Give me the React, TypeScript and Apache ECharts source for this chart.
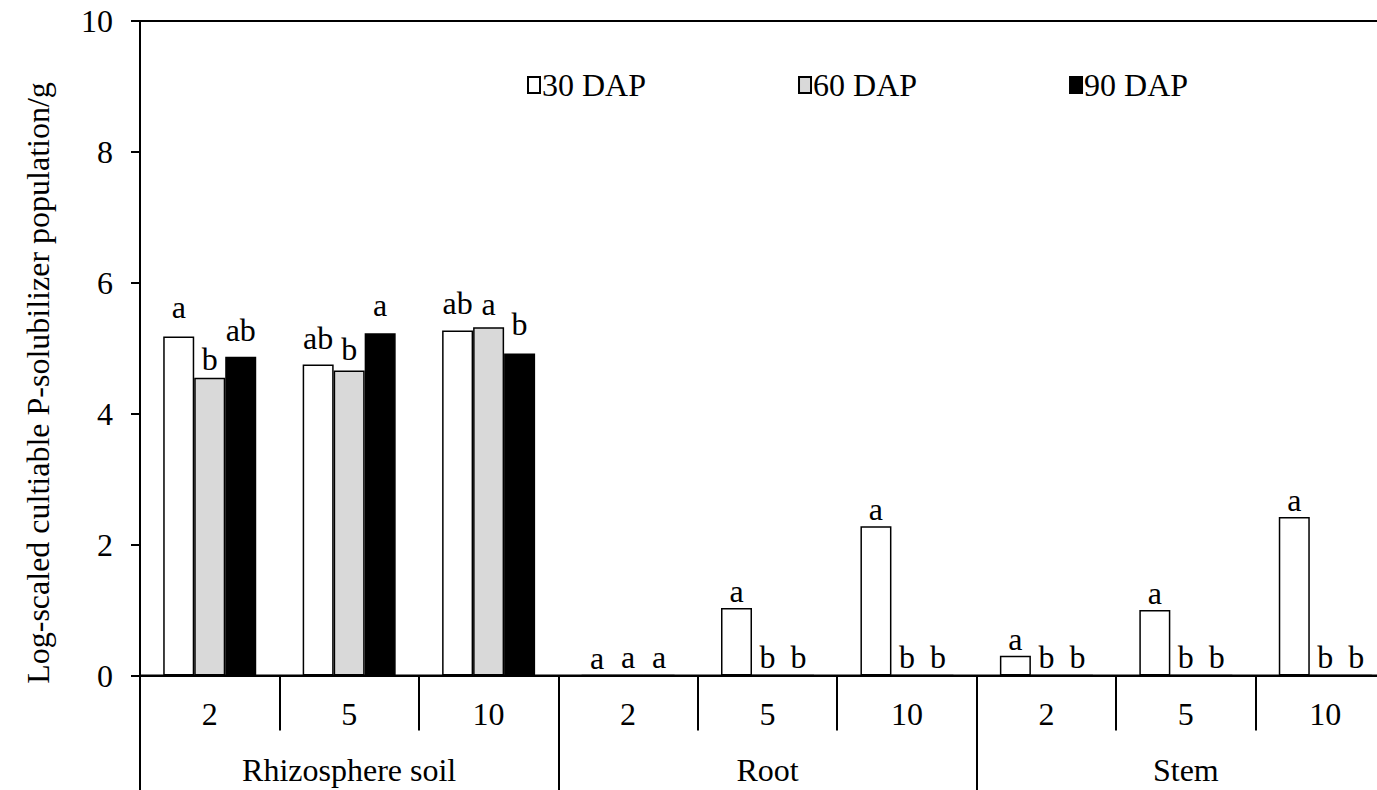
import React, { useEffect, useRef } from "react";
import * as echarts from "echarts";

const groups = ["Rhizosphere soil", "Root", "Stem"];
const subCategories = ["2", "5", "10", "2", "5", "10", "2", "5", "10"];
const seriesNames = ["30 DAP", "60 DAP", "90 DAP"];
const values30 = [5.18, 4.75, 5.27, 0, 1.03, 2.28, 0.3, 1.0, 2.42];
const values60 = [4.55, 4.66, 5.32, 0, 0, 0, 0, 0, 0];
const values90 = [4.87, 5.23, 4.92, 0, 0, 0, 0, 0, 0];
const letters30 = ["a", "ab", "ab", "a", "a", "a", "a", "a", "a"];
const letters60 = ["b", "b", "a", "a", "b", "b", "b", "b", "b"];
const letters90 = ["ab", "a", "b", "a", "b", "b", "b", "b", "b"];
const yTicks = { min: 0, max: 10, interval: 2 };
const yTitle = "Log-scaled cultiable P-solubilizer population/g";

// label distances above bars (style, px)
const labelDist30 = [13, 11, 12, 1, 1, 1, 1, 1, 1];
const labelDist60 = [3, 6, 7, 2, 2, 2, 2, 2, 2];
const labelDist90 = [11, 12, 13, 2, 2, 2, 2, 2, 2];

const FONT = "'Liberation Serif', 'Times New Roman', serif";

export default function App() {
  const ref = useRef<HTMLDivElement>(null);
  useEffect(() => {
    if (!ref.current) return;
    const chart = echarts.init(ref.current, undefined, { renderer: "svg" });
    const fills = ["#ffffff", "#d9d9d9", "#000000"];
    const vals = [values30, values60, values90];
    const lets = [letters30, letters60, letters90];
    const dists = [labelDist30, labelDist60, labelDist90];
    chart.setOption({
      animation: false,
      textStyle: { fontFamily: FONT, color: "#000" },
      grid: {
        left: 140,
        right: 5,
        top: 21,
        bottom: 114.5,
        show: true,
        borderColor: "#000",
        borderWidth: 2,
        backgroundColor: "transparent",
      },
      legend: {
        data: seriesNames,
        left: 522,
        top: 64,
        icon: "rect",
        itemWidth: 12,
        itemHeight: 16,
        itemGap: 152,
        textStyle: { fontFamily: FONT, fontSize: 32, color: "#000", padding: [0, 0, 0, -3] },
      },
      graphic: [
        {
          type: "text",
          x: 38,
          y: 383,
          rotation: Math.PI / 2,
          style: {
            text: yTitle,
            fontFamily: FONT,
            fontSize: 32,
            fill: "#000",
            align: "center",
            verticalAlign: "middle",
          },
        },
      ],
      xAxis: [
        {
          type: "category",
          data: subCategories,
          position: "bottom",
          axisLine: { show: true, lineStyle: { color: "#000", width: 2 } },
          axisTick: { show: true, interval: 0, length: 55, lineStyle: { color: "#000", width: 2 } },
          axisLabel: { interval: 0, margin: 22, fontSize: 32, fontFamily: FONT, color: "#000" },
          splitLine: { show: false },
        },
        {
          type: "category",
          data: groups,
          position: "bottom",
          axisLine: { show: false },
          axisTick: { show: true, interval: 0, length: 130, lineStyle: { color: "#000", width: 2 } },
          axisLabel: { interval: 0, margin: 78, fontSize: 32, fontFamily: FONT, color: "#000" },
          splitLine: { show: false },
        },
      ],
      yAxis: {
        type: "value",
        min: yTicks.min,
        max: yTicks.max,
        interval: yTicks.interval,
        axisLine: { show: true, lineStyle: { color: "#000", width: 2 } },
        axisTick: { show: true, inside: false, length: 9, lineStyle: { color: "#000", width: 2 } },
        axisLabel: { margin: 27, fontSize: 32, fontFamily: FONT, color: "#000" },
        splitLine: { show: false },
      },
      series: seriesNames.map((name, i) => ({
        name,
        type: "bar",
        xAxisIndex: 0,
        data: vals[i].map((v, j) => ({ value: v, label: { distance: dists[i][j] } })),
        barWidth: 31,
        barGap: "0%",
        itemStyle: { color: fills[i], borderColor: "#000", borderWidth: 1.5 },
        label: {
          show: true,
          position: "top",
          fontSize: 32,
          fontFamily: FONT,
          color: "#000",
          formatter: (p: any) => lets[i][p.dataIndex],
        },
      })),
    });
    return () => chart.dispose();
  }, []);
  return (
    <div style={{ position: "fixed", left: 0, top: 0, width: 1377, height: 790, overflow: "hidden", background: "#fff" }}>
      <div ref={ref} style={{ position: "absolute", left: 0, top: 0, width: 1400, height: 790 }} />
    </div>
  );
}
